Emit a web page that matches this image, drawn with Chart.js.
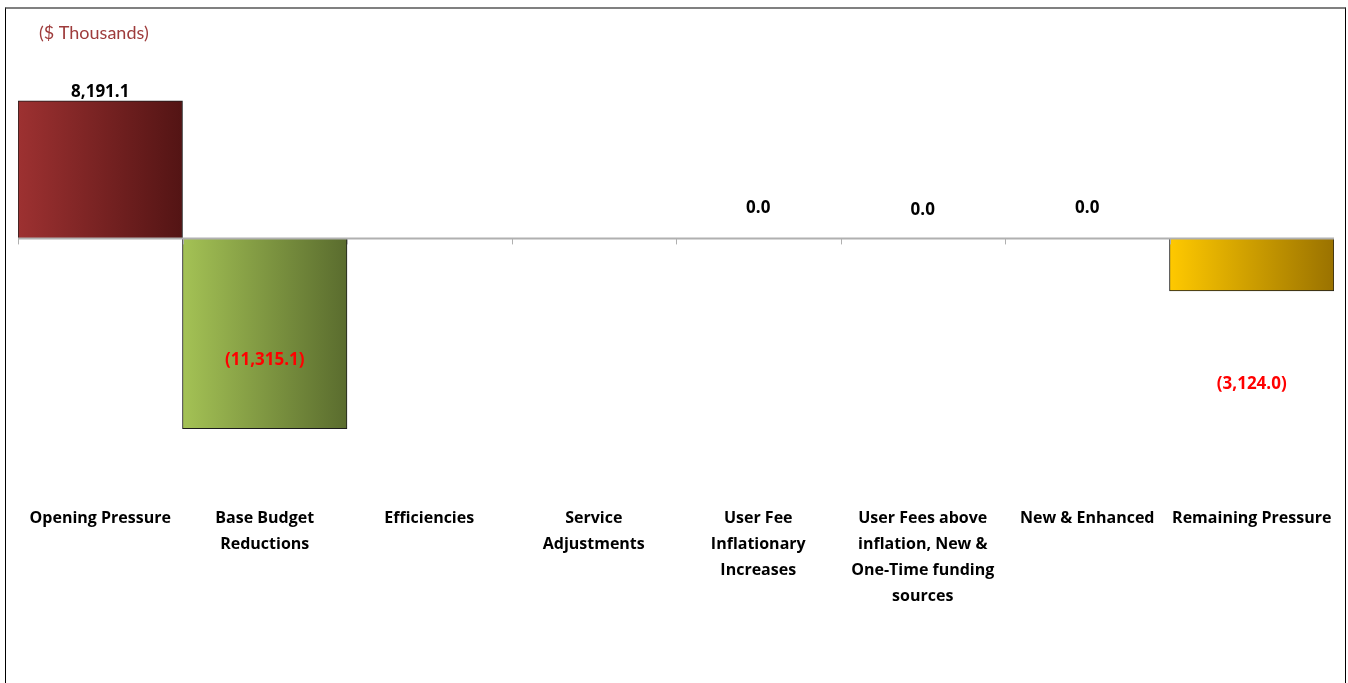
<!DOCTYPE html>
<html>
<head>
<meta charset="utf-8">
<script src="https://cdn.jsdelivr.net/npm/chart.js@4.4.1/dist/chart.umd.min.js"></script>
<style>
    body { margin: 0; background: #fff; }
    #frame {
        position: absolute; left: 5px; top: 7px; width: 1339px; height: 700px;
        border-left: 1px solid #000; border-right: 1px solid #000; border-top: 2px solid #808080;
        pointer-events: none;
    }
    canvas { position: absolute; left: 0; top: 0; }
</style>
</head>
<body>
<canvas id="budgetChart" width="1348" height="683"></canvas>
<div id="frame"></div>
<script>
const categories = [
    ['Opening Pressure'],
    ['Base Budget', 'Reductions'],
    ['Efficiencies'],
    ['Service', 'Adjustments'],
    ['User Fee', 'Inflationary', 'Increases'],
    ['User Fees above', 'inflation, New &', 'One-Time funding', 'sources'],
    ['New & Enhanced'],
    ['Remaining Pressure']
];
const values = [8191.1, -11315.1, null, null, 0.0, 0.0, 0.0, -3124.0];
const unitLabel = '($ Thousands)';

// gradient colours, left -> right
const lightColors = ['#9d3131', '#a4c255', '#ffffff', '#ffffff', '#ffffff', '#ffffff', '#ffffff', '#ffc900'];
const darkColors = ['#531414', '#5a6c2e', '#ffffff', '#ffffff', '#ffffff', '#ffffff', '#ffffff', '#9a7200'];
// label offset (px) from the zero line, hand tuned like the original
const labelDy = [null, 122, null, null, -30, -28, -30, 146];

const fontFamily = '"Open Sans", Lato, sans-serif';

function formatValue(v) {
    const s = Math.abs(v).toLocaleString('en-US', { minimumFractionDigits: 1, maximumFractionDigits: 1 });
    return v < 0 ? '(' + s + ')' : s;
}

const extrasPlugin = {
    id: 'extras',
    afterDatasetsDraw(chart) {
        const ctx = chart.ctx;
        const area = chart.chartArea;
        const y0 = chart.scales.y.getPixelForValue(0);
        const step = area.width / categories.length;

        // zero axis line and boundary ticks
        ctx.save();
        ctx.strokeStyle = '#b0b0b0';
        ctx.lineWidth = 2;
        ctx.beginPath();
        ctx.moveTo(area.left, y0);
        ctx.lineTo(area.right, y0);
        ctx.stroke();
        ctx.lineWidth = 1;
        for (let i = 0; i < categories.length; i++) {
            const x = Math.round(area.left + i * step) + 0.5;
            ctx.beginPath();
            ctx.moveTo(x, y0);
            ctx.lineTo(x, y0 + 6);
            ctx.stroke();
        }

        // data labels
        ctx.font = 'bold 17px ' + fontFamily;
        ctx.textAlign = 'center';
        ctx.textBaseline = 'middle';
        const meta = chart.getDatasetMeta(0);
        values.forEach((v, i) => {
            if (v === null) return;
            const bar = meta.data[i];
            let y;
            if (v > 0) y = bar.y - 9;
            else y = y0 + labelDy[i];
            ctx.fillStyle = v < 0 ? '#ff0000' : '#000000';
            ctx.fillText(formatValue(v), bar.x, y);
        });

        // unit note
        ctx.font = '18px Lato, sans-serif';
        ctx.textAlign = 'left';
        ctx.fillStyle = '#9e3b3b';
        ctx.fillText(unitLabel, 39, 33);
        ctx.restore();
    }
};

new Chart(document.getElementById('budgetChart'), {
    type: 'bar',
    data: {
        labels: categories,
        datasets: [{
            data: values,
            backgroundColor: function(context) {
                const chart = context.chart;
                const area = chart.chartArea;
                const i = context.dataIndex;
                if (!area || !chart.scales.x) return lightColors[i];
                const step = area.width / categories.length;
                const cx = chart.scales.x.getPixelForValue(i);
                const g = chart.ctx.createLinearGradient(cx - step / 2, 0, cx + step / 2, 0);
                g.addColorStop(0, lightColors[i]);
                g.addColorStop(1, darkColors[i]);
                return g;
            },
            borderColor: '#1c1c1c',
            borderWidth: 1,
            barPercentage: 1,
            categoryPercentage: 1
        }]
    },
    options: {
        responsive: false,
        animation: false,
        layout: { padding: { left: 18, right: 14, top: 30, bottom: 74 } },
        plugins: {
            legend: { display: false },
            tooltip: { enabled: false }
        },
        scales: {
            x: {
                grid: { display: false, drawTicks: false },
                border: { display: false },
                ticks: {
                    autoSkip: false,
                    maxRotation: 0,
                    minRotation: 0,
                    padding: 0,
                    color: '#000',
                    font: { family: fontFamily, size: 16, weight: 'bold', lineHeight: 26 / 16 }
                }
            },
            y: {
                display: false,
                min: -15860,
                max: 12400
            }
        }
    },
    plugins: [extrasPlugin]
});
</script>
</body>
</html>
